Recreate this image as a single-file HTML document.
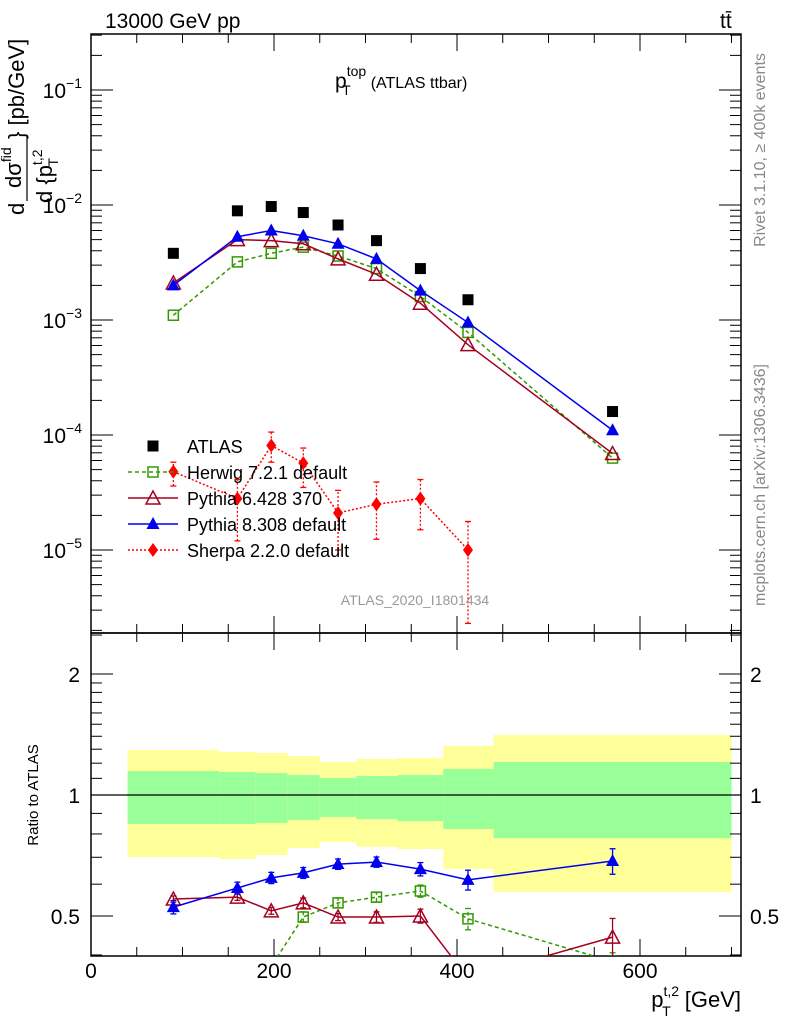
<!DOCTYPE html>
<html><head><meta charset="utf-8"><style>
body{margin:0;background:#fff;}
svg{display:block;font-family:"Liberation Sans",Arial,sans-serif;}
</style></head><body>
<svg id="c" width="786" height="1024" viewBox="0 0 786 1024"></svg>
<script>
const xCenters=[90,160,197,232,270,312,360,412,570];
const atlasVals=[3.8e-3,8.9e-3,9.7e-3,8.6e-3,6.7e-3,4.9e-3,2.8e-3,1.5e-3,1.6e-4];
const herwigVals=[1.1e-3,3.2e-3,3.8e-3,4.3e-3,3.6e-3,2.8e-3,1.6e-3,7.8e-4,6.3e-5];
const py6Vals=[2.1e-3,5.0e-3,4.9e-3,4.6e-3,3.4e-3,2.5e-3,1.4e-3,6.1e-4,6.9e-5];
const py8Vals=[2.0e-3,5.3e-3,6.0e-3,5.4e-3,4.6e-3,3.4e-3,1.8e-3,9.5e-4,1.1e-4];
const sherpaX=[90,160,197,232,270,312,360,412];
const sherpaVals=[4.8e-5,2.8e-5,8.1e-5,5.7e-5,2.1e-5,2.5e-5,2.8e-5,1.0e-5];
const sherpaHi=[5.8e-5,4.1e-5,1.06e-4,7.7e-5,3.3e-5,3.9e-5,4.1e-5,1.77e-5];
const sherpaLo=[3.6e-5,1.2e-5,5.8e-5,3.5e-5,1.0e-5,1.24e-5,1.5e-5,2.3e-6];
const binEdges=[40,140,180,215,250,290,335,385,440,700];
const yellowHi=[1.294,1.279,1.272,1.250,1.208,1.229,1.236,1.324,1.410];
const greenHi=[1.147,1.141,1.134,1.121,1.102,1.115,1.121,1.161,1.208];
const greenLo=[0.847,0.847,0.852,0.867,0.882,0.871,0.861,0.823,0.781];
const yellowLo=[0.701,0.693,0.709,0.738,0.764,0.743,0.734,0.655,0.574];
const rPy8=[0.526,0.587,0.622,0.640,0.673,0.681,0.654,0.615,0.685];
const rPy8Err=[0.02,0.02,0.02,0.02,0.02,0.02,0.025,0.035,0.05];
const rPy6=[0.551,0.557,0.515,0.539,0.497,0.497,0.500,0.35,0.443];
const rPy6Err=[0.01,0.01,0.01,0.015,0.01,0.015,0.02,0.02,0.05];
const rHerwig=[0.29,0.33,0.375,0.497,0.539,0.557,0.577,0.492,0.385];
const rHerwigErr=[0.01,0.01,0.01,0.015,0.015,0.015,0.02,0.03,0.02];
const xTicks=[0,200,400,600];
const yExp=[-1,-2,-3,-4,-5];
const rTicks=[2,1,0.5];

const L=91,R=741,T=34,MB=633,RB=956;
const X=v=>L+v*0.915;
const Y=v=>90-(Math.log10(v)+1)*115;
const RY=r=>795-Math.log2(r)*121;
const NS='http://www.w3.org/2000/svg';
const svg=document.getElementById('c');
function el(tag,attrs,parent){const e=document.createElementNS(NS,tag);for(const k in attrs)e.setAttribute(k,attrs[k]);(parent||svg).appendChild(e);return e;}
function grp(name){const g=el('g',{});return g;}

const bands=grp('ratio-uncertainty-bands');
const cpR=el('clipPath',{id:'cr'});el('rect',{x:L,y:MB,width:R-L,height:RB-MB},cpR);
const cpM=el('clipPath',{id:'cm'});el('rect',{x:L,y:T,width:R-L,height:MB-T},cpM);
bands.setAttribute('clip-path','url(#cr)');
for(let i=0;i<yellowHi.length;i++){
  const x0=X(binEdges[i]),x1=X(binEdges[i+1]);
  const y=el('rect',{x:x0,y:RY(yellowHi[i]),width:x1-x0,height:RY(yellowLo[i])-RY(yellowHi[i]),fill:'#ffff99'},bands);
  
  const g=el('rect',{x:x0,y:RY(greenHi[i]),width:x1-x0,height:RY(greenLo[i])-RY(greenHi[i]),fill:'#99ff99'},bands);
  
}
el('line',{x1:L,x2:R,y1:RY(1),y2:RY(1),stroke:'#000','stroke-width':1.2},bands);

const fr=grp('plot-frames');
el('rect',{x:L,y:T,width:R-L,height:MB-T,fill:'none',stroke:'#000','stroke-width':1.5},fr);
el('rect',{x:L,y:MB,width:R-L,height:RB-MB,fill:'none',stroke:'#000','stroke-width':1.5},fr);

const xt=grp('x-axis');
for(let v=0;v<=700;v+=50){
  const big=v%200===0,len=big?17:9,x=X(v);
  el('line',{x1:x,x2:x,y1:RB,y2:RB-len,stroke:'#000'},xt);
  el('line',{x1:x,x2:x,y1:MB,y2:MB-len,stroke:'#000'},xt);
  el('line',{x1:x,x2:x,y1:MB,y2:MB+len,stroke:'#000'},xt);
  el('line',{x1:x,x2:x,y1:T,y2:T+len,stroke:'#000'},xt);
}
xTicks.forEach(v=>{const t=el('text',{x:X(v),y:978,'font-size':21,'text-anchor':'middle'},xt);t.textContent=v;
});
const xl=el('text',{x:741,y:1007,'font-size':22,'text-anchor':'end'},xt);
xl.innerHTML='p<tspan font-size="14" dy="-11">t,2</tspan><tspan font-size="14" dx="-17" dy="20">T</tspan><tspan dy="-9" dx="8"> [GeV]</tspan>';


const yt=grp('y-axis');
for(let e=-6;e<=0;e++){for(let m=1;m<10;m++){const v=m*Math.pow(10,e),y=Y(v);if(y<T||y>MB)continue;
  const len=m===1?22:11;
  el('line',{x1:L,x2:L+len,y1:y,y2:y,stroke:'#000'},yt);
  el('line',{x1:R,x2:R-len,y1:y,y2:y,stroke:'#000'},yt);}}
yExp.forEach(e=>{const t=el('text',{x:82,y:Y(Math.pow(10,e))+8,'font-size':21,'text-anchor':'end'},yt);
t.innerHTML='10<tspan font-size="14" dy="-10">'+(e<0?'\u2212':'')+Math.abs(e)+'</tspan>';
});
const yl=el('g',{transform:'translate(0,215) rotate(-90)'},yt);

let t1=el('text',{x:0,y:24,'font-size':22},yl);t1.textContent='d';
let t2=el('text',{x:27,y:21,'font-size':22},yl);t2.innerHTML='d\u03c3<tspan font-size="14" dy="-10">fid</tspan>';
el('line',{x1:14,x2:80,y1:27,y2:27,stroke:'#000','stroke-width':1.2},yl);
let t3=el('text',{x:12,y:52,'font-size':22},yl);t3.innerHTML='d {p<tspan font-size="14" dy="-10">t,2</tspan><tspan font-size="14" dx="-17" dy="16">T</tspan>';
let t4=el('text',{x:76,y:24,'font-size':22},yl);t4.textContent='} [pb/GeV]';

const rt=grp('ratio-y-axis');
[0.4,0.5,0.6,0.7,0.8,0.9,1,1.1,1.2,1.3,1.4,1.5,1.6,1.7,1.8,1.9,2,2.5].forEach(r=>{const y=RY(r);if(y<MB||y>RB)return;
  const len=(r===1||r===2||r===0.5)?22:11;
  el('line',{x1:L,x2:L+len,y1:y,y2:y,stroke:'#000'},rt);el('line',{x1:R,x2:R-len,y1:y,y2:y,stroke:'#000'},rt);});
rTicks.forEach(r=>{const a=el('text',{x:80,y:RY(r)+8,'font-size':21,'text-anchor':'end'},rt);a.textContent=r;

const b=el('text',{x:750,y:RY(r)+8,'font-size':21},rt);b.textContent=r;
});
const rl=el('text',{transform:'translate(38,795) rotate(-90)','font-size':15,'text-anchor':'middle'},rt);rl.textContent='Ratio to ATLAS';


function marker(type,x,y,col,p){
  if(type==='sq') return el('rect',{x:x-5.5,y:y-5.5,width:11,height:11,fill:col},p);
  if(type==='osq') return el('rect',{x:x-5,y:y-5,width:10,height:10,fill:'none',stroke:col,'stroke-width':1.5},p);
  if(type==='tri') return el('polygon',{points:`${x},${y-7} ${x-6.5},${y+5} ${x+6.5},${y+5}`,fill:col},p);
  if(type==='otri') return el('polygon',{points:`${x},${y-7} ${x-7},${y+6} ${x+7},${y+6}`,fill:'none',stroke:col,'stroke-width':1.5},p);
  if(type==='dia') return el('polygon',{points:`${x},${y-7} ${x-5},${y} ${x},${y+7} ${x+5},${y}`,fill:col},p);
}
function series(name,xs,vals,yf,col,dash,mk,clip,errs){
  const g=grp(name);if(clip)g.setAttribute('clip-path',clip);
  if(dash!==null){const pts=xs.map((x,i)=>X(x)+','+yf(vals[i])).join(' ');
    const pl=el('polyline',{points:pts,fill:'none',stroke:col,'stroke-width':1.5,'stroke-dasharray':dash},g);
    }
  xs.forEach((x,i)=>{
    if(errs){const y1=yf(errs[0][i]),y2=yf(errs[1][i]);
      el('line',{x1:X(x),x2:X(x),y1:y1,y2:y2,stroke:col,'stroke-width':1.3,'stroke-dasharray':dash||'none'},g);
      el('line',{x1:X(x)-3,x2:X(x)+3,y1:y1,y2:y1,stroke:col,'stroke-width':1.3},g);
      el('line',{x1:X(x)-3,x2:X(x)+3,y1:y2,y2:y2,stroke:col,'stroke-width':1.3},g);}
    const m=marker(mk,X(x),yf(vals[i]),col,g);
    });
}
const G='#339900',RD='#a50021',B='#0000ee',S='#ff0000';
series('herwig-series',xCenters,herwigVals,Y,G,'4,3','osq','url(#cm)');
series('pythia6-series',xCenters,py6Vals,Y,RD,'','otri','url(#cm)');
series('pythia8-series',xCenters,py8Vals,Y,B,'','tri','url(#cm)');
series('sherpa-series',sherpaX,sherpaVals,Y,S,'2,2','dia','url(#cm)',[sherpaLo,sherpaHi]);
series('atlas-data',xCenters,atlasVals,Y,'#000',null,'sq','url(#cm)');

const lo=a=>a[0].map((v,i)=>v-a[1][i]),hi=a=>a[0].map((v,i)=>v+a[1][i]);
series('herwig-ratio',xCenters,rHerwig,RY,G,'4,3','osq','url(#cr)',[lo([rHerwig,rHerwigErr]),hi([rHerwig,rHerwigErr])]);
series('pythia6-ratio',xCenters,rPy6,RY,RD,'','otri','url(#cr)',[lo([rPy6,rPy6Err]),hi([rPy6,rPy6Err])]);
series('pythia8-ratio',xCenters,rPy8,RY,B,'','tri','url(#cr)',[lo([rPy8,rPy8Err]),hi([rPy8,rPy8Err])]);

const lg=grp('legend');
const items=[['ATLAS','#000',null,'sq'],['Herwig 7.2.1 default',G,'4,3','osq'],['Pythia 6.428 370',RD,'','otri'],['Pythia 8.308 default',B,'','tri'],['Sherpa 2.2.0 default',S,'2,2','dia']];
items.forEach((it,i)=>{const y=446+i*26;const e=el('g',{},lg);
  
  if(it[2]!==null)el('line',{x1:128,x2:178,y1:y,y2:y,stroke:it[1],'stroke-width':1.5,'stroke-dasharray':it[2]},e);
  marker(it[3],153,y,it[1],e);
  const t=el('text',{x:187,y:y+7,'font-size':18},e);t.textContent=it[0];});

function txt(name,x,y,s,content,attrs){const t=el('text',Object.assign({x:x,y:y,'font-size':s},attrs||{}));t.innerHTML=content;return t;}
txt('energy-label',105,28,21,'13000 GeV pp');
txt('process-label',720,28,21,'tt\u0304');
txt('plot-title',335,88,21,'p<tspan font-size="14" dy="-12">top</tspan><tspan font-size="14" dx="-24" dy="19">T</tspan><tspan dy="-7" font-size="16" dx="20">(ATLAS ttbar)</tspan>');
txt('analysis-id',415,605,14,'ATLAS_2020_I1801434',{fill:'#999','text-anchor':'middle'});
txt('rivet-label',0,0,16,'Rivet 3.1.10, \u2265 400k events',{fill:'#888','text-anchor':'middle',transform:'translate(765,150) rotate(-90)'});
txt('mcplots-label',0,0,16,'mcplots.cern.ch [arXiv:1306.3436]',{fill:'#888','text-anchor':'middle',transform:'translate(765,485) rotate(-90)'});
</script>
</body></html>
